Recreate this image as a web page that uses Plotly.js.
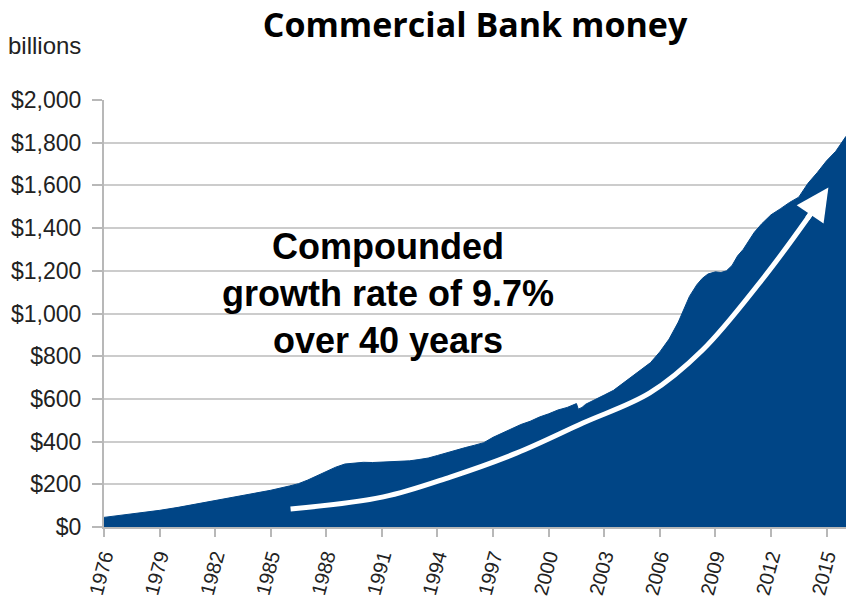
<!DOCTYPE html>
<html>
<head>
<meta charset="utf-8">
<script src="https://cdn.plot.ly/plotly-3.0.1.min.js"></script>
<style>html,body{margin:0;padding:0;background:#fff;}#chart{width:849px;height:603px;}</style>
</head>
<body>
<div id="chart"></div>
<script>
// Commercial bank money, billions of dollars
var years = [1976.0, 1977.0, 1978.0, 1979.0, 1980.0, 1981.0, 1982.0, 1983.0, 1984.0, 1985.0,
  1986.0, 1986.5, 1987.0, 1987.5, 1988.0, 1988.5, 1989.0, 1989.5, 1990.0, 1990.5,
  1991.0, 1991.5, 1992.0, 1992.5, 1993.0, 1993.5, 1994.0, 1994.5, 1995.0, 1995.5,
  1996.0, 1996.5, 1997.0, 1997.5, 1998.0, 1998.5, 1999.0, 1999.5, 2000.0, 2000.5,
  2001.0, 2001.5, 2001.6, 2001.8, 2002.0, 2002.5, 2003.0, 2003.5, 2004.0, 2004.5,
  2005.0, 2005.5, 2006.0, 2006.5, 2007.0, 2007.3, 2007.6, 2008.0, 2008.3, 2008.6,
  2009.0, 2009.3, 2009.6, 2009.9, 2010.2, 2010.5, 2010.8, 2011.1, 2011.5, 2012.0,
  2012.5, 2013.0, 2013.5, 2014.0, 2014.5, 2015.0, 2015.5, 2016.05];
var money = [45, 55, 68, 78, 92, 108, 122, 138, 155, 172,
  192, 203, 220, 240, 262, 280, 295, 300, 303, 302,
  304, 305, 306, 310, 316, 323, 335, 348, 362, 372,
  383, 395, 420, 440, 460, 480, 495, 515, 530, 548,
  560, 578, 552, 560, 575, 595, 618, 640, 672, 705,
  735, 770, 820, 880, 960, 1020, 1080, 1135, 1165, 1185,
  1195, 1192, 1200, 1225, 1270, 1300, 1340, 1380, 1420, 1462,
  1490, 1520, 1545, 1610, 1660, 1715, 1760, 1830];

// Illustrative growth arrow
var arrowX = [1986.07, 1991.08, 1994.69, 1998.29, 2001.85, 2005.46, 2008.31, 2011.38, 2013.91, 2014.3];
var arrowY = [84, 141, 234, 347, 487, 628, 829, 1143, 1438, 1488];
var arrowTip = [2015.1, 1590];

var yTicks = [0, 200, 400, 600, 800, 1000, 1200, 1400, 1600, 1800, 2000];
var xTicks = [1976, 1979, 1982, 1985, 1988, 1991, 1994, 1997, 2000, 2003, 2006, 2009, 2012, 2015];

var titleText = 'Commercial Bank money';
var unitText = 'billions';
var noteText = 'Compounded<br>growth rate of 9.7%<br>over 40 years';

var traces = [
  {
    x: years, y: money, type: 'scatter', mode: 'lines',
    fill: 'tozeroy', fillcolor: '#004586',
    line: {color: '#004586', width: 1},
    hoverinfo: 'skip', showlegend: false
  },
  {
    x: arrowX, y: arrowY, type: 'scatter', mode: 'lines',
    line: {color: '#ffffff', width: 5, shape: 'spline'},
    hoverinfo: 'skip', showlegend: false
  }
];

var layout = {
  width: 849, height: 603,
  margin: {l: 104, r: 3, t: 100, b: 76},
  paper_bgcolor: '#ffffff', plot_bgcolor: '#ffffff',
  showlegend: false,
  title: {
    text: '<b>' + titleText + '</b>',
    font: {family: 'Open Sans, sans-serif', size: 34, color: '#000000'},
    x: 0.5, xref: 'paper', xanchor: 'center',
    y: 1 - 25 / 603, yref: 'container', yanchor: 'middle'
  },
  xaxis: {
    range: [1976, 2016.05],
    tickmode: 'array', tickvals: xTicks, ticktext: xTicks.map(String),
    tickangle: -75,
    ticks: 'outside', ticklen: 8, tickwidth: 2, tickcolor: '#b8b8b8',
    showgrid: false, zeroline: false,
    showline: true, linecolor: '#b8b8b8', linewidth: 2,
    tickfont: {family: 'Liberation Sans, Arial, sans-serif', size: 20, color: '#222222'},
    fixedrange: true
  },
  yaxis: {
    range: [0, 2000],
    tickmode: 'array', tickvals: yTicks,
    ticktext: yTicks.map(function (v) { return '$' + v.toLocaleString('en-US'); }),
    ticks: 'outside', ticklen: 10, tickwidth: 2, tickcolor: '#b8b8b8',
    ticklabelstandoff: 6,
    showgrid: true, gridcolor: '#cccccc', gridwidth: 2,
    zeroline: false,
    showline: true, linecolor: '#b8b8b8', linewidth: 2,
    tickfont: {family: 'Liberation Sans, Arial, sans-serif', size: 23, color: '#222222'},
    fixedrange: true
  },
  annotations: [
    {
      text: unitText, xref: 'paper', yref: 'paper',
      x: (6 - 104) / 742, y: (527 - 45) / 427,
      xanchor: 'left', yanchor: 'middle', showarrow: false,
      font: {family: 'Liberation Sans, Arial, sans-serif', size: 24, color: '#222222'}
    },
    {
      text: '<b>' + noteText + '</b>', xref: 'paper', yref: 'paper',
      x: (388 - 104) / 742, y: (527 - 293) / 427,
      xanchor: 'center', yanchor: 'middle', align: 'center', showarrow: false,
      font: {family: 'Liberation Sans, Arial, sans-serif', size: 36, color: '#000000'}
    },
    {
      text: '', x: arrowTip[0], y: arrowTip[1], xref: 'x', yref: 'y',
      ax: arrowX[arrowX.length - 2], ay: arrowY[arrowY.length - 2], axref: 'x', ayref: 'y',
      showarrow: true, arrowhead: 2, arrowsize: 1.3, arrowwidth: 5, arrowcolor: '#ffffff',
      standoff: 0, startstandoff: 0
    }
  ]
};

Plotly.newPlot('chart', traces, layout, {displayModeBar: false, staticPlot: true});
</script>
</body>
</html>
